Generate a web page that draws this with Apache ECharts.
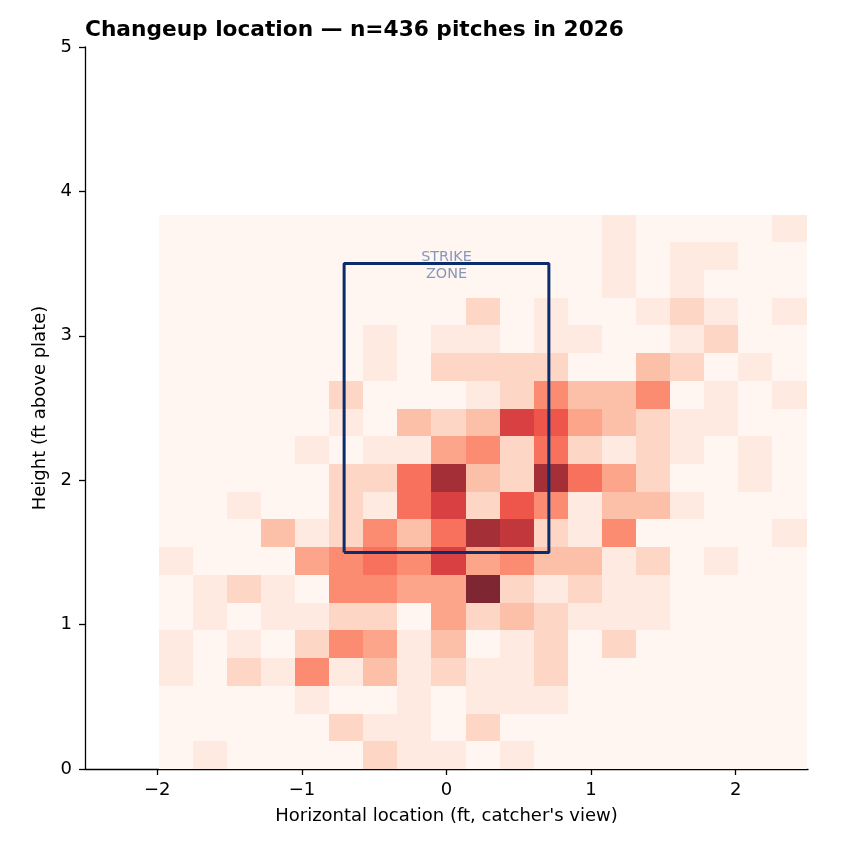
<!DOCTYPE html>
<html>
<head>
<meta charset="utf-8">
<title>Changeup location</title>
<script src="https://cdn.jsdelivr.net/npm/echarts@6.0.0/dist/echarts.min.js"></script>
<style>
	html, body { margin: 0; padding: 0; background: #fff; }
	#chartDiv { width: 845px; height: 845px; }
</style>
</head>
<body>
<div id="chartDiv"></div>
<script>
// bin edges (ft)
const xEdges = [-1.99, -1.754, -1.518, -1.283, -1.047, -0.811, -0.575, -0.339, -0.104, 0.132,
	0.368, 0.604, 0.839, 1.075, 1.311, 1.547, 1.783, 2.018, 2.254, 2.49];
const yEdges = [0, 0.192, 0.384, 0.576, 0.768, 0.96, 1.152, 1.344, 1.536, 1.728, 1.92,
	2.112, 2.304, 2.496, 2.688, 2.88, 3.072, 3.264, 3.456, 3.648, 3.84];

// pitch counts per bin, bottom row first
const counts = [
	[0, 1, 0, 0, 0, 0, 2, 1, 1, 0, 1, 0, 0, 0, 0, 0, 0, 0, 0],
	[0, 0, 0, 0, 0, 2, 1, 1, 0, 2, 0, 0, 0, 0, 0, 0, 0, 0, 0],
	[0, 0, 0, 0, 1, 0, 0, 1, 0, 1, 1, 1, 0, 0, 0, 0, 0, 0, 0],
	[1, 0, 2, 1, 5, 1, 3, 1, 2, 1, 1, 2, 0, 0, 0, 0, 0, 0, 0],
	[1, 0, 1, 0, 2, 5, 4, 1, 3, 0, 1, 2, 0, 2, 0, 0, 0, 0, 0],
	[0, 1, 0, 1, 1, 2, 2, 0, 4, 2, 3, 2, 1, 1, 1, 0, 0, 0, 0],
	[0, 1, 2, 1, 0, 5, 5, 4, 4, 11, 2, 1, 2, 1, 1, 0, 0, 0, 0],
	[1, 0, 0, 0, 4, 5, 6, 5, 8, 4, 5, 3, 3, 1, 2, 0, 1, 0, 0],
	[0, 0, 0, 3, 1, 2, 5, 3, 6, 10, 9, 2, 1, 5, 0, 0, 0, 0, 1],
	[0, 0, 1, 0, 0, 2, 1, 6, 8, 2, 7, 5, 1, 3, 3, 1, 0, 0, 0],
	[0, 0, 0, 0, 0, 2, 2, 6, 10, 3, 2, 10, 6, 4, 2, 0, 0, 1, 0],
	[0, 0, 0, 0, 1, 0, 1, 1, 4, 5, 2, 6, 2, 1, 2, 1, 0, 1, 0],
	[0, 0, 0, 0, 0, 1, 0, 3, 2, 3, 8, 7, 4, 3, 2, 1, 1, 0, 0],
	[0, 0, 0, 0, 0, 2, 0, 0, 0, 1, 2, 5, 3, 3, 5, 0, 1, 0, 1],
	[0, 0, 0, 0, 0, 0, 1, 0, 2, 2, 2, 2, 0, 0, 3, 2, 0, 1, 0],
	[0, 0, 0, 0, 0, 0, 1, 0, 1, 1, 0, 1, 1, 0, 0, 1, 2, 0, 0],
	[0, 0, 0, 0, 0, 0, 0, 0, 0, 2, 0, 1, 0, 0, 1, 2, 1, 0, 1],
	[0, 0, 0, 0, 0, 0, 0, 0, 0, 0, 0, 0, 0, 1, 0, 1, 0, 0, 0],
	[0, 0, 0, 0, 0, 0, 0, 0, 0, 0, 0, 0, 0, 1, 0, 1, 1, 0, 0],
	[0, 0, 0, 0, 0, 0, 0, 0, 0, 0, 0, 0, 0, 1, 0, 0, 0, 0, 1]
];

// strike zone corners (ft)
const zoneX = [-0.708, 0.708];
const zoneY = [1.5, 3.5];

const xTicks = [-2, -1, 0, 1, 2];
const yTicks = [0, 1, 2, 3, 4, 5];

// Reds colormap, alpha 0.85 over white
const redsColors = ['#fff6f2', '#fee5d9', '#fcc5af', '#fca287', '#fc8065',
	'#f1584c', '#d33b3f', '#b33338', '#7e2631'];

const fontName = 'DejaVu Sans';

let cells = [];
counts.forEach((row, r) => {
	row.forEach((c, i) => {
		cells.push([xEdges[i], yEdges[r], xEdges[i + 1], yEdges[r + 1], c]);
	});
});

let zoneLine = [
	[zoneX[0], zoneY[0]], [zoneX[1], zoneY[0]], [zoneX[1], zoneY[1]],
	[zoneX[0], zoneY[1]], [zoneX[0], zoneY[0]]
];

const tickFmt = v => (v < 0 ? '\u2212' + Math.abs(v) : String(v));

let chart = echarts.init(document.getElementById('chartDiv'));
let option = {
	animation: false,
	backgroundColor: '#fff',
	title: {
		text: 'Changeup location \u2014 n=436 pitches in 2026',
		left: 85,
		top: 19,
		padding: 0,
		textStyle: {
			fontFamily: fontName,
			fontSize: 21.7,
			fontWeight: 'bold',
			color: '#000'
		}
	},
	grid: {
		left: 85,
		right: 37,
		top: 47,
		bottom: 76
	},
	visualMap: {
		show: false,
		type: 'continuous',
		seriesIndex: 0,
		dimension: 4,
		min: 0,
		max: 11,
		inRange: {
			color: redsColors
		}
	},
	xAxis: {
		type: 'value',
		min: -2.5,
		max: 2.5,
		name: "Horizontal location (ft, catcher's view)",
		nameLocation: 'middle',
		nameGap: 38,
		nameTextStyle: { fontFamily: fontName, fontSize: 18, color: '#000' },
		axisLine: { show: true, onZero: false, lineStyle: { color: '#000', width: 1.3 } },
		axisTick: { show: true, length: 6, customValues: xTicks, lineStyle: { color: '#000', width: 1.3 } },
		axisLabel: {
			customValues: xTicks,
			formatter: tickFmt,
			margin: 12,
			fontFamily: fontName,
			fontSize: 18,
			color: '#000'
		},
		splitLine: { show: false }
	},
	yAxis: {
		type: 'value',
		min: 0,
		max: 5,
		interval: 1,
		name: 'Height (ft above plate)',
		nameLocation: 'middle',
		nameGap: 32,
		nameTextStyle: { fontFamily: fontName, fontSize: 18, color: '#000' },
		axisLine: { show: true, onZero: false, lineStyle: { color: '#000', width: 1.3 } },
		axisTick: { show: true, length: 6, customValues: yTicks, lineStyle: { color: '#000', width: 1.3 } },
		axisLabel: {
			customValues: yTicks,
			formatter: tickFmt,
			margin: 13,
			fontFamily: fontName,
			fontSize: 18,
			color: '#000'
		},
		splitLine: { show: false }
	},
	series: [{
		name: 'counts',
		type: 'custom',
		renderItem: function(params, api) {
			let p0 = api.coord([api.value(0), api.value(1)]);
			let p1 = api.coord([api.value(2), api.value(3)]);
			let x0 = Math.round(p0[0]), x1 = Math.round(p1[0]);
			let y0 = Math.round(p1[1]), y1 = Math.round(p0[1]);
			return {
				type: 'rect',
				shape: { x: x0, y: y0, width: x1 - x0, height: y1 - y0 },
				style: { fill: api.visual('color') }
			};
		},
		encode: { x: [0, 2], y: [1, 3] },
		data: cells,
		z: 1
	}, {
		name: 'zone',
		type: 'line',
		data: zoneLine,
		symbol: 'none',
		lineStyle: { color: '#0b2c6b', width: 3 },
		z: 3,
		silent: true
	}, {
		name: 'zoneLabel',
		type: 'scatter',
		data: [[0, zoneY[1]]],
		symbolSize: 0,
		z: 4,
		silent: true,
		label: {
			show: true,
			position: 'inside',
			offset: [0, 2],
			formatter: 'STRIKE\nZONE',
			fontFamily: fontName,
			fontSize: 14.4,
			lineHeight: 16.5,
			color: '#6a7ea9'
		}
	}]
};
chart.setOption(option);
</script>
</body>
</html>
